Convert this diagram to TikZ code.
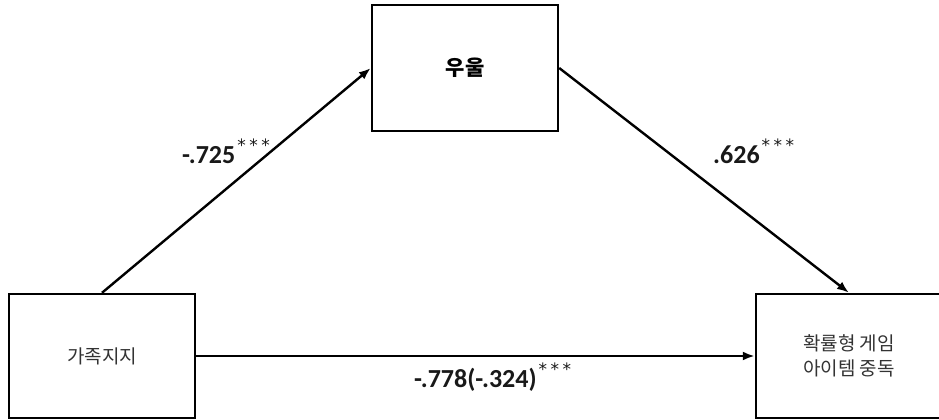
\documentclass[tikz,border=0pt]{standalone}
\usepackage{fontspec}
\usetikzlibrary{arrows.meta}
\newfontfamily\krfont{Noto Sans CJK KR}
\newfontfamily\numfont{Carlito}
\newfontfamily\starfont{DejaVu Sans}
\newcommand{\sigstars}{\kern2pt\raisebox{12pt}{\fontsize{17}{17}\selectfont\mdseries\starfont *\kern3.5pt*\kern3.5pt*}}
\tikzset{
  varbox/.style={draw=black, line width=2.4pt, fill=white, minimum width=186pt, minimum height=124pt, inner sep=0pt, align=center, font=\fontsize{19}{25}\selectfont\krfont, text=black!80},
  path/.style={draw=black, line width=2.4pt, -{Latex[length=12pt,width=9pt]}},
  coef/.style={anchor=base west, inner sep=0pt, font=\fontsize{26}{26}\selectfont\numfont\bfseries, text=black!90}
}
\begin{document}
\begin{tikzpicture}[x=1pt,y=-1pt]
\useasboundingbox (0,0) rectangle (939,420);
\node[varbox] (x) at (102,356) {가족지지};
\node[varbox, minimum height=126pt, font=\fontsize{21}{25}\selectfont\krfont\bfseries, text=black] (m) at (465,68) {우울};
\node[varbox] (y) at (849,356) {확률형 게임\\아이템 중독};
\draw[path] (x.north) -- (m.west);
\draw[path] (m.east) -- (y.north);
\draw[path] (x.east) -- (y.west);
\node[coef] (a) at (182,163) {-.725\sigstars};
\node[coef] (b) at (713,163) {.626\sigstars};
\node[coef] (c) at (414,387) {-.778(-.324)\sigstars};
\end{tikzpicture}
\end{document}
